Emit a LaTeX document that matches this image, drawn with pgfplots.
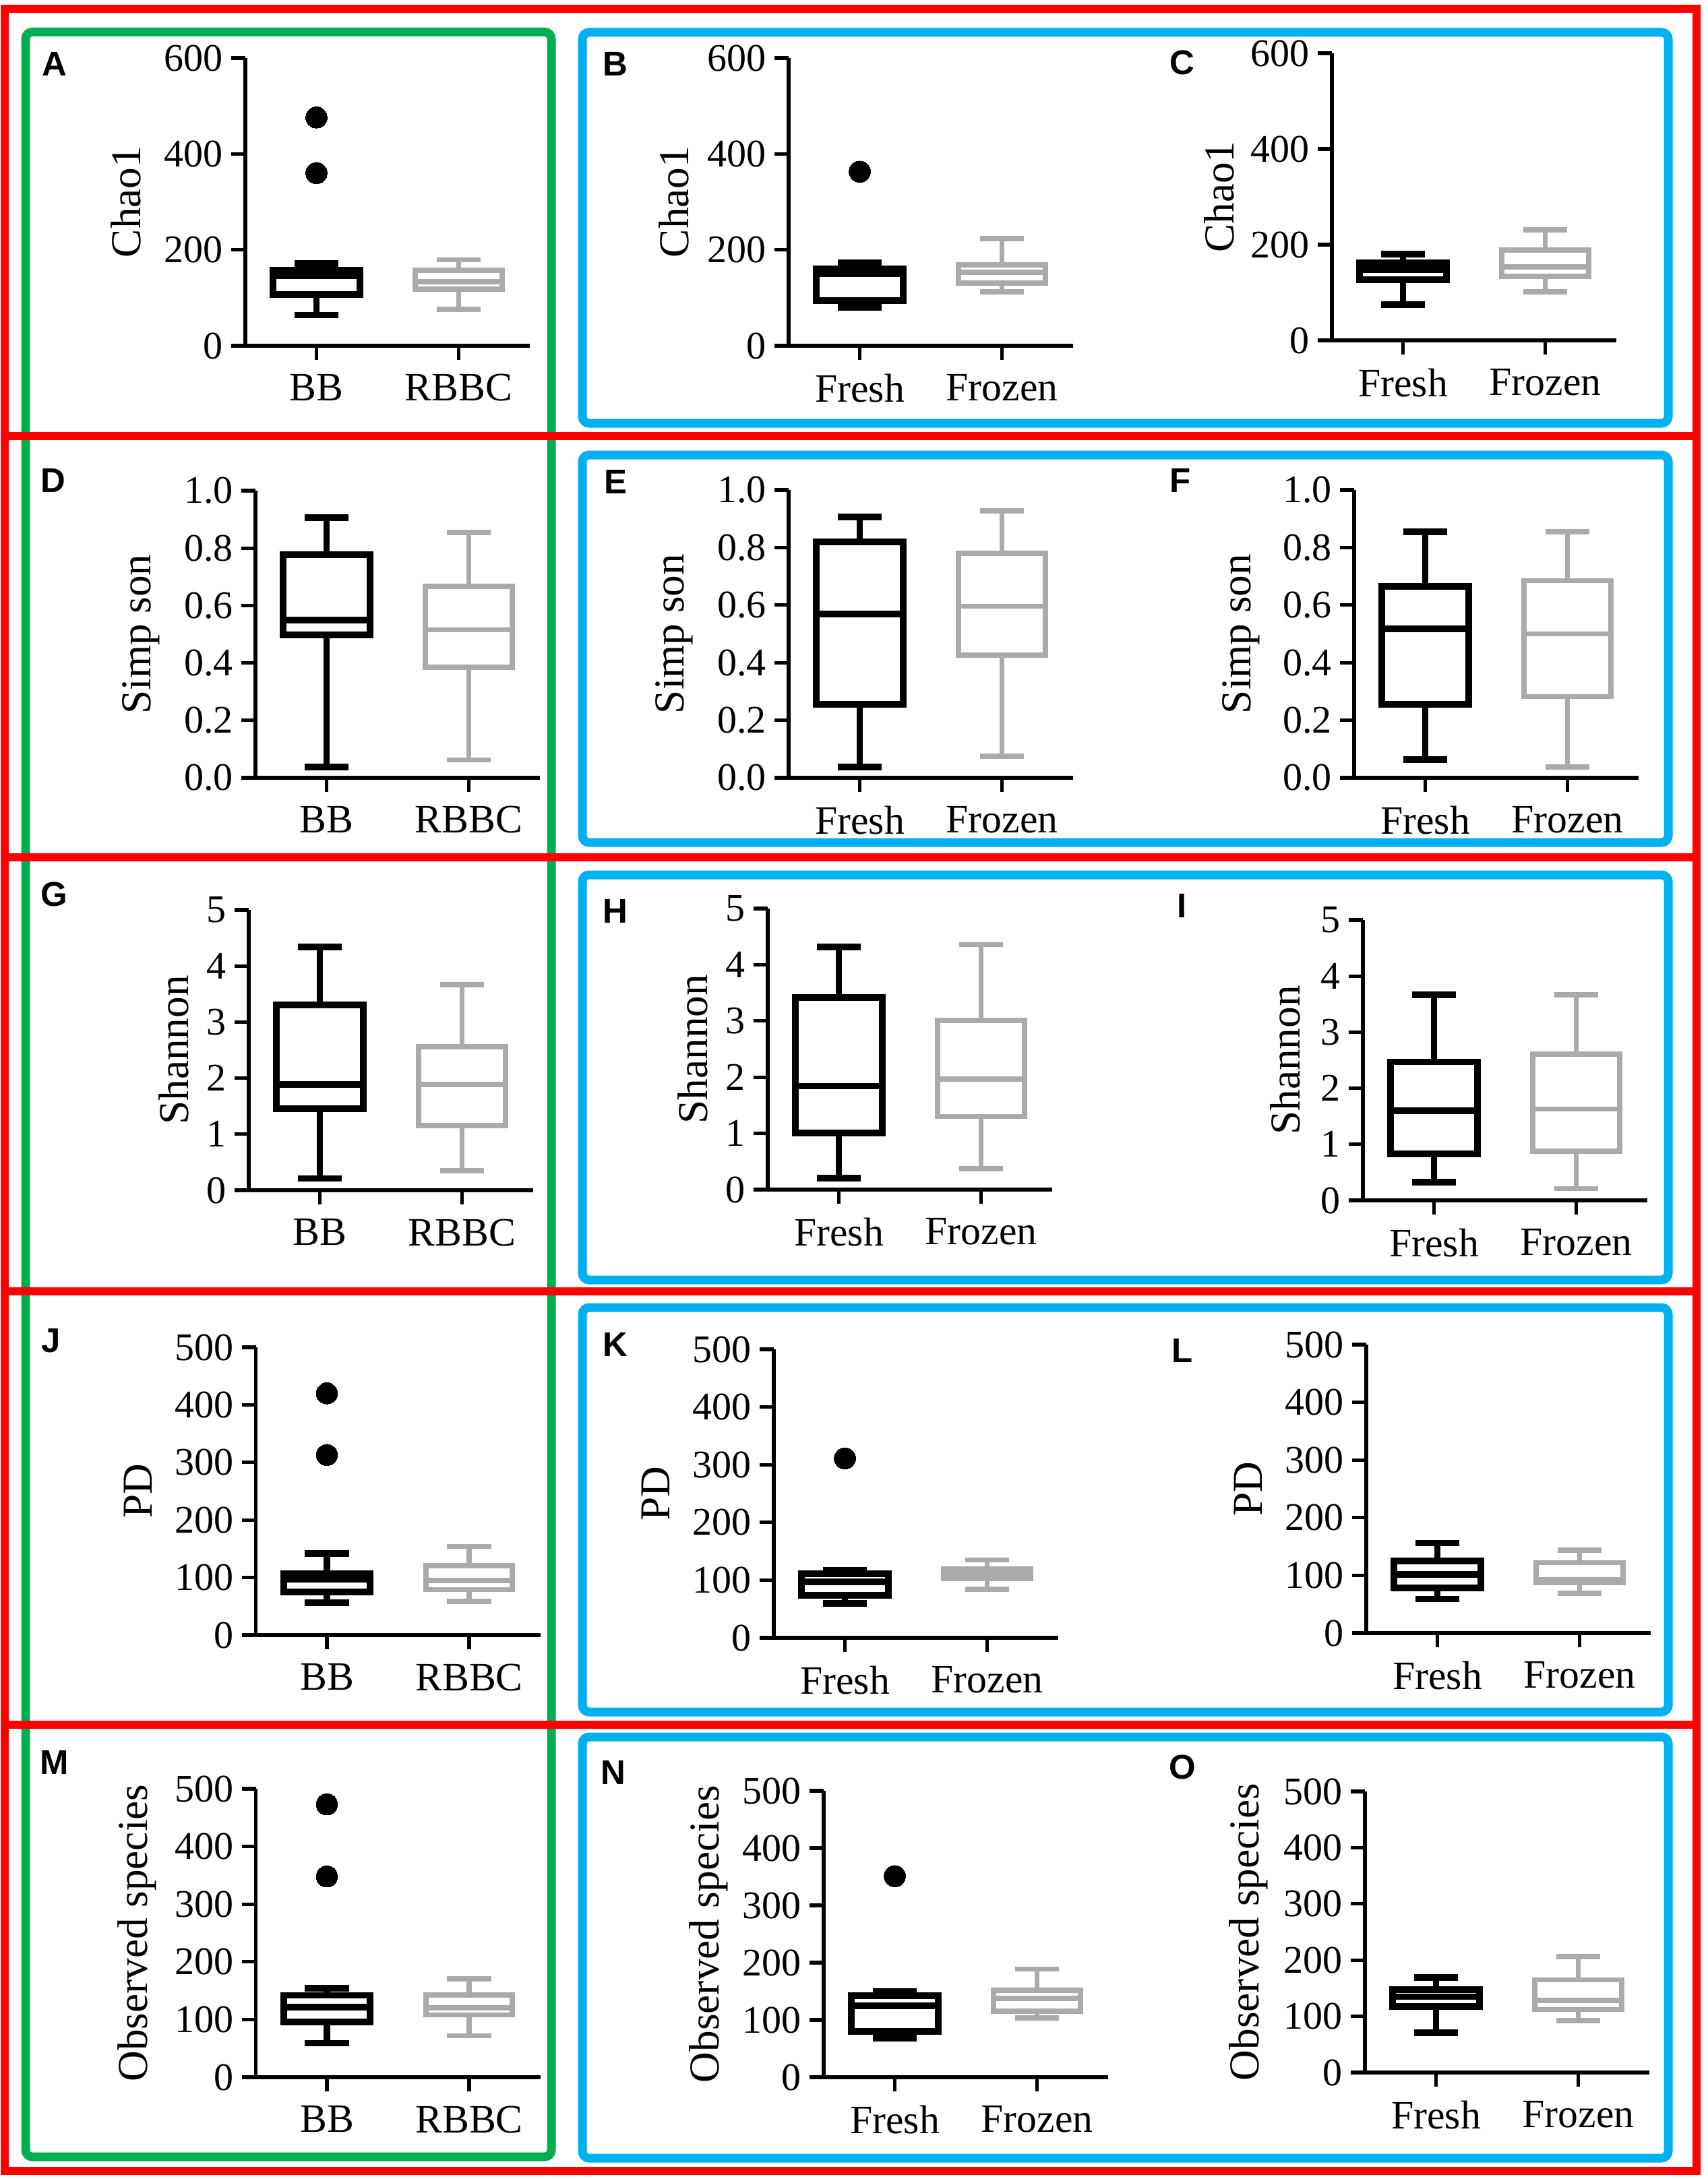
\documentclass[border=0pt]{standalone}
\usepackage{fontspec}
\setmainfont{Liberation Serif}
\newfontfamily\lettfont{Liberation Sans}
\usepackage{pgfplots}
\pgfplotsset{compat=1.18}
\usepgfplotslibrary{statistics}

\definecolor{bgray}{RGB}{170,170,170}
\definecolor{fgreen}{RGB}{0,176,80}
\definecolor{fblue}{RGB}{0,176,240}
\definecolor{fred}{RGB}{255,0,0}

\pgfplotsset{
  panel/.style={
    scale only axis, width=42.2mm, anchor=south west,
    xmin=0.5, xmax=2.5, ymin=0, clip=false,
    axis lines=left, axis line style={-, line width=1.7pt},
    xtick={1,2}, tick align=outside, major tick length=2.1mm,
    tick style={black, line width=1.5pt},
    /pgf/number format/assume math mode=true,
    yticklabel style={font=\fontsize{16.5}{16.5}\selectfont},
    xticklabel style={font=\fontsize{17}{17}\selectfont, yshift=-0.9mm},
    ylabel style={font=\fontsize{18}{18}\selectfont, anchor=center},
  },
  chao/.style={panel, ymax=600, ytick={0,200,400,600}},
  simp/.style={panel, ymax=1, ytick={0,0.2,0.4,0.6,0.8,1.0},
    yticklabel style={/pgf/number format/.cd, fixed, fixed zerofill, precision=1}},
  shan/.style={panel, ymax=5, ytick={0,1,2,3,4,5}},
  five/.style={panel, ymax=500, ytick={0,100,200,300,400,500}},
  bb/.style={black, line width=2.8pt, mark=none},
  gr/.style={bgray, line width=2.2pt, mark=none},
  bw/.style={boxplot/draw direction=y, boxplot/box extend=0.61, boxplot/whisker extend=0.31},
  outl/.style={only marks, mark=*, mark size=4.5pt, black,
    mark options={fill=black, line width=0pt}},
}
\newcommand\lett[1]{{\lettfont\bfseries\fontsize{14.5}{14.5}\selectfont #1}}

\begin{document}
\begin{tikzpicture}
\path[use as bounding box] (0,0) rectangle (253.3mm,-323.3mm);

% ---- frames
\draw[fgreen, line width=1.3mm, rounded corners=1mm] (3.8mm,-4.75mm) rectangle (81.8mm,-320.0mm);
\foreach \ya/\yb in {4.8/62.8, 67.5/125.0, 129.8/189.9, 194.0/254.0, 257.7/320.2}
  \draw[fblue, line width=1.3mm, rounded corners=1mm] (86.4mm,-\ya mm) rectangle (247.5mm,-\yb mm);
\draw[fred, line width=1.2mm] (0.7mm,-1.3mm) rectangle (251.7mm,-322.1mm);
\foreach \y in {64.7, 127.2, 191.6, 255.9}
  \draw[fred, line width=1.2mm] (0.7mm,-\y mm) -- (251.7mm,-\y mm);

% ---- row 1: Chao1
\begin{axis}[chao, at={(36.4mm,-51.3mm)}, height=42.7mm, xticklabels={BB,RBBC},
  ylabel={Chao1}, ylabel style={at={(axis description cs:-0.419,0.5)}}]
\addplot[bb, bw, boxplot prepared={draw position=1, lower whisker=64, lower quartile=107,
  median=146, upper quartile=158, upper whisker=171}] coordinates {};
\addplot[gr, bw, boxplot prepared={draw position=2, lower whisker=76, lower quartile=118,
  median=133, upper quartile=157, upper whisker=179}] coordinates {};
\addplot[outl] coordinates {(1,476) (1,360)};
\end{axis}

\begin{axis}[chao, at={(117.0mm,-51.3mm)}, height=42.7mm, xticklabels={Fresh,Frozen},
  ylabel={Chao1}, ylabel style={at={(axis description cs:-0.403,0.5)}}]
\addplot[bb, bw, boxplot prepared={draw position=1, lower whisker=80, lower quartile=94,
  median=150, upper quartile=160, upper whisker=173}] coordinates {};
\addplot[gr, bw, boxplot prepared={draw position=2, lower whisker=112, lower quartile=131,
  median=153, upper quartile=169, upper whisker=223}] coordinates {};
\addplot[outl] coordinates {(1,363)};
\end{axis}

\begin{axis}[chao, at={(197.6mm,-50.5mm)}, height=42.6mm, xticklabels={Fresh,Frozen},
  ylabel={Chao1}, ylabel style={at={(axis description cs:-0.396,0.5)}}]
\addplot[bb, bw, boxplot prepared={draw position=1, lower whisker=75, lower quartile=127,
  median=148, upper quartile=162, upper whisker=180}] coordinates {};
\addplot[gr, bw, boxplot prepared={draw position=2, lower whisker=101, lower quartile=134,
  median=154, upper quartile=189, upper whisker=231}] coordinates {};
\end{axis}

% ---- row 2: Simpson
\begin{axis}[simp, at={(37.9mm,-115.4mm)}, height=42.6mm, xticklabels={BB,RBBC},
  ylabel={Simp son}, ylabel style={at={(axis description cs:-0.403,0.5)}}]
\addplot[bb, bw, boxplot prepared={draw position=1, lower whisker=0.038, lower quartile=0.498,
  median=0.549, upper quartile=0.778, upper whisker=0.907}] coordinates {};
\addplot[gr, bw, boxplot prepared={draw position=2, lower whisker=0.062, lower quartile=0.385,
  median=0.515, upper quartile=0.666, upper whisker=0.855}] coordinates {};
\end{axis}

\begin{axis}[simp, at={(117.0mm,-115.4mm)}, height=42.7mm, xticklabels={Fresh,Frozen},
  ylabel={Simp son}, ylabel style={at={(axis description cs:-0.403,0.5)}}]
\addplot[bb, bw, boxplot prepared={draw position=1, lower whisker=0.038, lower quartile=0.256,
  median=0.570, upper quartile=0.819, upper whisker=0.907}] coordinates {};
\addplot[gr, bw, boxplot prepared={draw position=2, lower whisker=0.075, lower quartile=0.427,
  median=0.596, upper quartile=0.780, upper whisker=0.927}] coordinates {};
\end{axis}

\begin{axis}[simp, at={(200.9mm,-115.4mm)}, height=42.7mm, xticklabels={Fresh,Frozen},
  ylabel={Simp son}, ylabel style={at={(axis description cs:-0.398,0.5)}}]
\addplot[bb, bw, boxplot prepared={draw position=1, lower whisker=0.064, lower quartile=0.256,
  median=0.517, upper quartile=0.666, upper whisker=0.855}] coordinates {};
\addplot[gr, bw, boxplot prepared={draw position=2, lower whisker=0.038, lower quartile=0.282,
  median=0.500, upper quartile=0.685, upper whisker=0.855}] coordinates {};
\end{axis}

% ---- row 3: Shannon
\begin{axis}[shan, at={(36.9mm,-176.6mm)}, height=41.6mm, xticklabels={BB,RBBC},
  ylabel={Shannon}, ylabel style={at={(axis description cs:-0.264,0.5)}}]
\addplot[bb, bw, boxplot prepared={draw position=1, lower whisker=0.21, lower quartile=1.45,
  median=1.89, upper quartile=3.31, upper whisker=4.34}] coordinates {};
\addplot[gr, bw, boxplot prepared={draw position=2, lower whisker=0.35, lower quartile=1.15,
  median=1.89, upper quartile=2.56, upper whisker=3.67}] coordinates {};
\end{axis}

\begin{axis}[shan, at={(113.9mm,-176.5mm)}, height=41.7mm, xticklabels={Fresh,Frozen},
  ylabel={Shannon}, ylabel style={at={(axis description cs:-0.263,0.5)}}]
\addplot[bb, bw, boxplot prepared={draw position=1, lower whisker=0.20, lower quartile=1.01,
  median=1.84, upper quartile=3.42, upper whisker=4.32}] coordinates {};
\addplot[gr, bw, boxplot prepared={draw position=2, lower whisker=0.37, lower quartile=1.30,
  median=1.97, upper quartile=3.01, upper whisker=4.36}] coordinates {};
\end{axis}

\begin{axis}[shan, at={(202.2mm,-178.1mm)}, height=41.6mm, xticklabels={Fresh,Frozen},
  ylabel={Shannon}, ylabel style={at={(axis description cs:-0.273,0.5)}}]
\addplot[bb, bw, boxplot prepared={draw position=1, lower whisker=0.32, lower quartile=0.83,
  median=1.60, upper quartile=2.47, upper whisker=3.67}] coordinates {};
\addplot[gr, bw, boxplot prepared={draw position=2, lower whisker=0.21, lower quartile=0.88,
  median=1.63, upper quartile=2.61, upper whisker=3.67}] coordinates {};
\end{axis}

% ---- row 4: PD
\begin{axis}[five, at={(37.95mm,-242.6mm)}, height=42.7mm, xticklabels={BB,RBBC},
  ylabel={PD}, ylabel style={at={(axis description cs:-0.414,0.5)}}]
\addplot[bb, bw, boxplot prepared={draw position=1, lower whisker=56, lower quartile=75,
  median=97, upper quartile=107, upper whisker=142}] coordinates {};
\addplot[gr, bw, boxplot prepared={draw position=2, lower whisker=59, lower quartile=79,
  median=95, upper quartile=121, upper whisker=154}] coordinates {};
\addplot[outl] coordinates {(1,420) (1,313)};
\end{axis}

\begin{axis}[five, at={(114.8mm,-243.0mm)}, height=42.8mm, xticklabels={Fresh,Frozen},
  ylabel={PD}, ylabel style={at={(axis description cs:-0.415,0.5)}}]
\addplot[bb, bw, boxplot prepared={draw position=1, lower whisker=60, lower quartile=74,
  median=97, upper quartile=111, upper whisker=117}] coordinates {};
\addplot[gr, bw, boxplot prepared={draw position=2, lower whisker=84, lower quartile=103,
  median=110, upper quartile=119, upper whisker=135}] coordinates {};
\addplot[outl] coordinates {(1,311)};
\end{axis}

\begin{axis}[five, at={(202.7mm,-242.3mm)}, height=42.8mm, xticklabels={Fresh,Frozen},
  ylabel={PD}, ylabel style={at={(axis description cs:-0.415,0.5)}}]
\addplot[bb, bw, boxplot prepared={draw position=1, lower whisker=59, lower quartile=78,
  median=102, upper quartile=125, upper whisker=156}] coordinates {};
\addplot[gr, bw, boxplot prepared={draw position=2, lower whisker=69, lower quartile=87,
  median=93, upper quartile=122, upper whisker=144}] coordinates {};
\end{axis}

% ---- row 5: Observed species
\begin{axis}[five, at={(37.95mm,-308.2mm)}, height=42.8mm, xticklabels={BB,RBBC},
  ylabel={Observed species}, ylabel style={at={(axis description cs:-0.418,0.5)}}]
\addplot[bb, bw, boxplot prepared={draw position=1, lower whisker=59, lower quartile=96,
  median=122, upper quartile=142, upper whisker=154}] coordinates {};
\addplot[gr, bw, boxplot prepared={draw position=2, lower whisker=72, lower quartile=108,
  median=120, upper quartile=143, upper whisker=171}] coordinates {};
\addplot[outl] coordinates {(1,473) (1,348)};
\end{axis}

\begin{axis}[five, at={(122.2mm,-308.2mm)}, height=42.5mm, xticklabels={Fresh,Frozen},
  ylabel={Observed species}, ylabel style={at={(axis description cs:-0.405,0.5)}}]
\addplot[bb, bw, boxplot prepared={draw position=1, lower whisker=68, lower quartile=80,
  median=125, upper quartile=142, upper whisker=150}] coordinates {};
\addplot[gr, bw, boxplot prepared={draw position=2, lower whisker=104, lower quartile=115,
  median=138, upper quartile=152, upper whisker=189}] coordinates {};
\addplot[outl] coordinates {(1,351)};
\end{axis}

\begin{axis}[five, at={(202.5mm,-307.5mm)}, height=41.7mm, xticklabels={Fresh,Frozen},
  ylabel={Observed species}, ylabel style={at={(axis description cs:-0.41,0.5)}}]
\addplot[bb, bw, boxplot prepared={draw position=1, lower whisker=71, lower quartile=118,
  median=135, upper quartile=148, upper whisker=169}] coordinates {};
\addplot[gr, bw, boxplot prepared={draw position=2, lower whisker=92, lower quartile=112,
  median=128, upper quartile=165, upper whisker=206}] coordinates {};
\end{axis}

% ---- panel letters
\node at (8.1mm,-9.5mm) {\lett{A}};
\node at (91.3mm,-9.5mm) {\lett{B}};
\node at (175.4mm,-9.3mm) {\lett{C}};
\node at (7.9mm,-71.3mm) {\lett{D}};
\node at (91.3mm,-71.5mm) {\lett{E}};
\node at (175.1mm,-71.3mm) {\lett{F}};
\node at (8.0mm,-132.7mm) {\lett{G}};
\node at (91.3mm,-135.2mm) {\lett{H}};
\node at (175.4mm,-134.4mm) {\lett{I}};
\node at (7.6mm,-198.9mm) {\lett{J}};
\node at (91.3mm,-199.5mm) {\lett{K}};
\node at (175.4mm,-200.4mm) {\lett{L}};
\node at (8.1mm,-261.5mm) {\lett{M}};
\node at (91.0mm,-263.0mm) {\lett{N}};
\node at (175.4mm,-262.2mm) {\lett{O}};
\end{tikzpicture}
\end{document}
